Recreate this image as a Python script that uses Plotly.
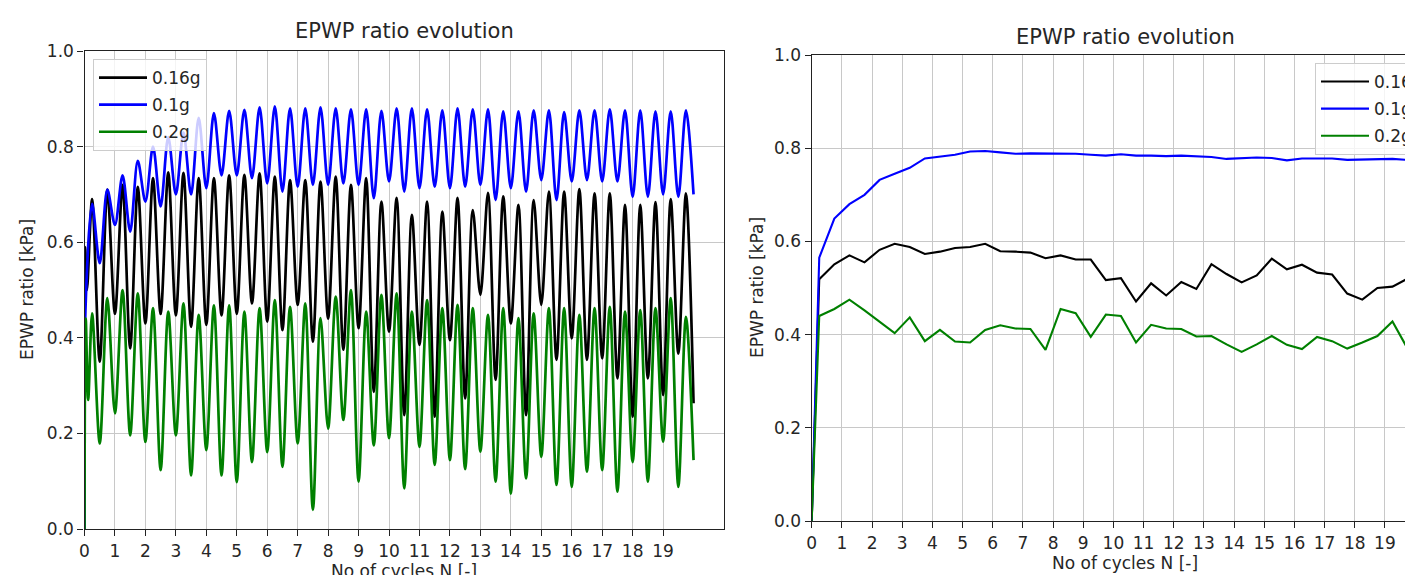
import numpy as np
import plotly.graph_objects as go

# ---------------- data ----------------
series_names = ["0.16g", "0.1g", "0.2g"]
series_colors = ["#000000", "#0000ff", "#008000"]

# left panel: peaks at N = 0.25, 0.75, ... ; troughs at N = 0.5, 1.0, ... 20.0
peak_N = np.arange(0.25, 20.0, 0.5)
trough_N = np.arange(0.5, 20.01, 0.5)

black_start_N = [0, 0.02, 0.08]
black_start_v = [0, 0.59, 0.50]
black_peaks = [0.69, 0.71, 0.72, 0.716, 0.734, 0.746, 0.745, 0.734, 0.734, 0.74,
               0.741, 0.744, 0.737, 0.73, 0.73, 0.727, 0.737, 0.72, 0.734, 0.685,
               0.693, 0.657, 0.685, 0.664, 0.693, 0.667, 0.703, 0.696, 0.678, 0.688,
               0.706, 0.706, 0.711, 0.702, 0.702, 0.678, 0.678, 0.684, 0.69, 0.702]
black_troughs = [0.35, 0.45, 0.378, 0.43, 0.45, 0.447, 0.423, 0.427, 0.447, 0.45,
                 0.472, 0.434, 0.416, 0.469, 0.392, 0.44, 0.375, 0.42, 0.287, 0.413,
                 0.238, 0.385, 0.235, 0.395, 0.273, 0.49, 0.312, 0.43, 0.238, 0.469,
                 0.354, 0.399, 0.354, 0.357, 0.315, 0.235, 0.315, 0.28, 0.367, 0.263]

blue_start_N = [0, 0.03]
blue_start_v = [0, 0.455]
blue_peaks = [0.68, 0.71, 0.74, 0.77, 0.80, 0.82, 0.83, 0.86, 0.87, 0.875,
              0.877, 0.882, 0.884, 0.88, 0.88, 0.882, 0.88, 0.878, 0.878, 0.875,
              0.88, 0.88, 0.878, 0.876, 0.88, 0.878, 0.878, 0.874, 0.874, 0.876,
              0.876, 0.872, 0.876, 0.876, 0.878, 0.876, 0.876, 0.874, 0.874, 0.876]
blue_troughs = [0.556, 0.636, 0.622, 0.685, 0.675, 0.70, 0.70, 0.713, 0.74, 0.74,
                0.734, 0.723, 0.706, 0.716, 0.72, 0.72, 0.723, 0.72, 0.692, 0.727,
                0.706, 0.713, 0.716, 0.713, 0.716, 0.72, 0.688, 0.713, 0.706, 0.73,
                0.688, 0.727, 0.73, 0.727, 0.727, 0.695, 0.695, 0.70, 0.695, 0.70]

green_start_N = [0, 0.04, 0.12]
green_start_v = [0, 0.44, 0.27]
green_peaks = [0.451, 0.483, 0.50, 0.493, 0.462, 0.455, 0.472, 0.448, 0.468, 0.468,
               0.455, 0.462, 0.479, 0.465, 0.472, 0.441, 0.486, 0.50, 0.455, 0.49,
               0.493, 0.455, 0.479, 0.462, 0.469, 0.462, 0.448, 0.462, 0.441, 0.451,
               0.462, 0.462, 0.448, 0.462, 0.465, 0.455, 0.458, 0.462, 0.483, 0.444]
green_troughs = [0.179, 0.242, 0.196, 0.182, 0.123, 0.196, 0.112, 0.165, 0.112, 0.098,
                 0.14, 0.161, 0.13, 0.179, 0.04, 0.21, 0.228, 0.099, 0.175, 0.19,
                 0.085, 0.172, 0.134, 0.144, 0.125, 0.162, 0.099, 0.074, 0.106, 0.151,
                 0.092, 0.088, 0.12, 0.123, 0.078, 0.14, 0.099, 0.183, 0.088, 0.144]

# right panel: per half-cycle values at N = 0, 0.25, 0.75, ...
right_N = [0.0] + list(np.arange(0.25, 20.0, 0.5))
right_black = [0.0,
               0.519, 0.551, 0.570, 0.555, 0.582, 0.595, 0.588, 0.573, 0.578, 0.586,
               0.588, 0.595, 0.579, 0.578, 0.576, 0.564, 0.570, 0.561, 0.561, 0.517,
               0.521, 0.471, 0.510, 0.484, 0.513, 0.498, 0.551, 0.530, 0.512, 0.527,
               0.563, 0.540, 0.550, 0.533, 0.529, 0.488, 0.475, 0.500, 0.503, 0.520]
right_blue = [0.0,
              0.565, 0.649, 0.680, 0.700, 0.732, 0.745, 0.758, 0.778, 0.782, 0.786,
              0.793, 0.794, 0.791, 0.788, 0.789, 0.789, 0.789, 0.788, 0.786, 0.784,
              0.787, 0.784, 0.784, 0.783, 0.784, 0.783, 0.781, 0.777, 0.779, 0.780,
              0.779, 0.774, 0.778, 0.778, 0.778, 0.775, 0.776, 0.777, 0.777, 0.775]
right_green = [0.0,
               0.440, 0.455, 0.475, 0.452, 0.428, 0.403, 0.437, 0.386, 0.410, 0.385,
               0.383, 0.410, 0.420, 0.413, 0.412, 0.367, 0.455, 0.446, 0.395, 0.443,
               0.440, 0.383, 0.421, 0.413, 0.412, 0.396, 0.397, 0.379, 0.363, 0.379,
               0.397, 0.378, 0.369, 0.395, 0.386, 0.370, 0.383, 0.397, 0.428, 0.370]

x_ticks = list(range(0, 20))
y_ticks = [0.0, 0.2, 0.4, 0.6, 0.8, 1.0]
title_text = "EPWP ratio evolution"
xlabel_text = "No of cycles N [-]"
ylabel_text = "EPWP ratio [kPa]"


def wave(start_N, start_v, peaks, troughs):
    xs, ys = list(start_N), list(start_v)
    for pn, pv, tn, tv in zip(peak_N, peaks, trough_N, troughs):
        xs += [float(pn), float(tn)]
        ys += [pv, tv]
    return xs, ys


left_series = [
    wave(black_start_N, black_start_v, black_peaks, black_troughs),
    wave(blue_start_N, blue_start_v, blue_peaks, blue_troughs),
    wave(green_start_N, green_start_v, green_peaks, green_troughs),
]
right_series = [right_black, right_blue, right_green]

# ---------------- figure ----------------
# The page body margin is removed (post_script) so the figure starts at window (0, 0).
# Like the reference, the right panel runs past the right edge of the 1405 px view.
OFF = 0
FIG_RIGHT_WIN = 1452
WIN_H = 575
W, H = FIG_RIGHT_WIN - OFF, WIN_H - OFF
FONT = "DejaVu Sans"
TXT = "#262626"


def px(wx):
    return (wx - OFF) / W


def py(wy):
    return 1 - (wy - OFF) / H


fig = go.Figure()
for (xs, ys), name, col in zip(left_series, series_names, series_colors):
    fig.add_trace(go.Scatter(x=xs, y=ys, mode="lines", name=name,
                             line=dict(color=col, width=2.7, shape="spline", smoothing=0.9),
                             xaxis="x", yaxis="y", legend="legend",
                             legendgroup="L" + name))
for ys, name, col in zip(right_series, series_names, series_colors):
    fig.add_trace(go.Scatter(x=right_N, y=ys, mode="lines", name=name,
                             line=dict(color=col, width=2.1),
                             xaxis="x2", yaxis="y2", legend="legend2",
                             legendgroup="R" + name))

axis_common = dict(showgrid=True, gridcolor="#c8c8c8", gridwidth=1.2,
                   showline=True, linecolor="#222222", linewidth=1.4,
                   ticks="outside", ticklen=6, tickwidth=1.2, tickcolor="#222222",
                   tickfont=dict(family=FONT, size=17, color=TXT),
                   zeroline=False, fixedrange=True, automargin=False)

# left panel window-pixel geometry
Lx0, Lx1, Ly0, Ly1 = 84.5, 724.0, 51.0, 529.0
# right panel (same 0..21 range as the left one)
Rx0, Ry0, Ry1 = 811.7, 55.0, 521.0
r_unit = 30.17
Rx1 = Rx0 + 21 * r_unit

fig.update_layout(
    template="none",
    width=W, height=H,
    margin=dict(l=0, r=0, t=0, b=0, pad=0, autoexpand=False),
    paper_bgcolor="white", plot_bgcolor="white",
    font=dict(family=FONT, size=17, color=TXT),
    showlegend=True,
    xaxis=dict(domain=[px(Lx0), px(Lx1)], range=[0, 21], tickvals=x_ticks,
               mirror=True, anchor="y", **axis_common),
    yaxis=dict(domain=[py(Ly1), py(Ly0)], range=[0, 1], tickvals=y_ticks,
               tickformat=".1f", mirror=True, anchor="x", **axis_common),
    xaxis2=dict(domain=[px(Rx0), px(Rx1)], range=[0, 21], tickvals=x_ticks,
                mirror=True, anchor="y2", **axis_common),
    yaxis2=dict(domain=[py(Ry1), py(Ry0)], range=[0, 1], tickvals=y_ticks,
                tickformat=".1f", mirror=True, anchor="x2", **axis_common),
    legend=dict(x=px(93), y=py(59), xanchor="left", yanchor="top",
                bgcolor="rgba(255,255,255,0.8)", bordercolor="#cccccc", borderwidth=1,
                font=dict(family=FONT, size=17, color=TXT), tracegroupgap=2,
                itemwidth=48),
    legend2=dict(x=px(1315), y=py(63), xanchor="left", yanchor="top",
                 bgcolor="rgba(255,255,255,0.8)", bordercolor="#cccccc", borderwidth=1,
                 font=dict(family=FONT, size=17, color=TXT), tracegroupgap=2,
                 itemwidth=48),
)

Lcx = (Lx0 + Lx1) / 2
Rcx = 1125.0
ann = [
    dict(text=title_text, x=Lcx, y=31, size=21, angle=0),
    dict(text=title_text, x=Rcx, y=37, size=21, angle=0),
    dict(text=ylabel_text, x=27, y=290, size=17, angle=-90),
    dict(text=ylabel_text, x=757, y=288, size=17, angle=-90),
    dict(text=xlabel_text, x=Lcx, y=571, size=17, angle=0),
    dict(text=xlabel_text, x=Rcx, y=563, size=17, angle=0),
]
for a in ann:
    fig.add_annotation(text=a["text"], x=px(a["x"]), y=py(a["y"]), xref="paper", yref="paper",
                       xanchor="center", yanchor="middle", showarrow=False,
                       textangle=a["angle"],
                       font=dict(family=FONT, size=a["size"], color=TXT))

page_css = ("document.body.style.margin='0';"
            "document.body.style.overflow='hidden';"
            "document.documentElement.style.overflow='hidden';")
fig.write_html("out.html", post_script=page_css,
               config={"displayModeBar": False, "staticPlot": False})
